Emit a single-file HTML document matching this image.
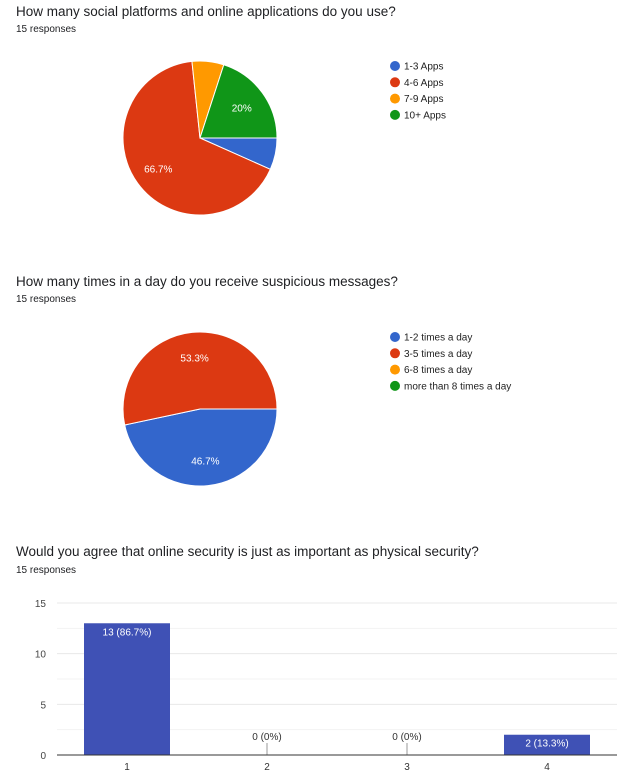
<!DOCTYPE html>
<html><head><meta charset="utf-8"><style>
body{margin:0;background:#fff;width:631px;height:773px;overflow:hidden;font-family:"Liberation Sans",Arial,sans-serif;}
svg text{font-family:"Liberation Sans",Arial,sans-serif;}
</style></head><body>
<svg id="s" width="631" height="773">
<text x="16" y="16" font-size="13.5" fill="#202124">How many social platforms and online applications do you use?</text>
<text x="16" y="32" font-size="10" fill="#202124">15 responses</text>
<text x="16" y="286" font-size="13.5" fill="#202124">How many times in a day do you receive suspicious messages?</text>
<text x="16" y="302" font-size="10" fill="#202124">15 responses</text>
<text x="16" y="556" font-size="13.5" fill="#202124">Would you agree that online security is just as important as physical security?</text>
<text x="16" y="573" font-size="10" fill="#202124">15 responses</text>
<g id="g1"></g>
<g id="g2"></g>
<g id="g3"></g>
</svg>
<script>
const pie1Labels=["1-3 Apps","4-6 Apps","7-9 Apps","10+ Apps"];
const pie1Values=[1,10,1,3];
const pie2Labels=["1-2 times a day","3-5 times a day","6-8 times a day","more than 8 times a day"];
const pie2Values=[7,8,0,0];
const barCategories=["1","2","3","4"];
const barValues=[13,0,0,2];
const barTicks=[0,5,10,15];
const colors=["#3366cc","#dc3912","#ff9900","#109618"];
const NS="http://www.w3.org/2000/svg";
function mk(t,a,p){const e=document.createElementNS(NS,t);for(const k in a)e.setAttribute(k,a[k]);p.appendChild(e);return e;}
function pie(g,labels,values,cx,cy,r,ly){
  const tot=values.reduce((a,b)=>a+b,0);let a=90;
  values.forEach((v,i)=>{
    if(v<=0)return;
    const sw=v/tot*360,a0=a*Math.PI/180,a1=(a+sw)*Math.PI/180;
    const x0=cx+r*Math.sin(a0),y0=cy-r*Math.cos(a0),x1=cx+r*Math.sin(a1),y1=cy-r*Math.cos(a1);
    const p=mk("path",{d:`M${cx},${cy}L${x0},${y0}A${r},${r} 0 ${sw>180?1:0} 1 ${x1},${y1}Z`,fill:colors[i],stroke:"#fff","stroke-width":1},g);
    
    
    const pct=v/tot*100;
    if(pct>=10){const m=(a+sw/2)*Math.PI/180;
      const t=mk("text",{x:cx+r*0.67*Math.sin(m),y:cy-r*0.67*Math.cos(m)+4,"font-size":10,fill:"#fff","text-anchor":"middle"},g);
      t.textContent=(Math.round(pct*10)/10)+"%";
      
      }
    a+=sw;
  });
  labels.forEach((l,i)=>{
    const c=mk("circle",{cx:395,cy:ly+i*16.3,r:5,fill:colors[i]},g);
    
    
    const t=mk("text",{x:404,y:ly+i*16.3+3.5,"font-size":10,fill:"#222"},g);
    t.textContent=l;
    
    
  });
}
pie(document.getElementById("g1"),pie1Labels,pie1Values,200,138,77,66);
pie(document.getElementById("g2"),pie2Labels,pie2Values,200,409,77,337);
(function(){
  const g=document.getElementById("g3");
  const L=57,R=617,T=603,B=755,max=15;
  const y=v=>B-(v/max)*(B-T);const step=(R-L)/barCategories.length;
  for(let v=2.5;v<=max;v+=2.5){const ln=mk("line",{x1:L,x2:R,y1:y(v),y2:y(v),stroke:v%5?"#f3f3f3":"#e8e8e8"},g);
    
    }
  barTicks.forEach(v=>{const t=mk("text",{x:46,y:y(v)+4,"font-size":10,fill:"#444","text-anchor":"end"},g);t.textContent=v;
    
    });
  const tot=barValues.reduce((a,b)=>a+b,0);
  barCategories.forEach((c,i)=>{
    const cx=L+step*(i+0.5),v=barValues[i];
    const lbl=v+" ("+(Math.round(v/tot*1000)/10)+"%)";
    if(v>0){const r=mk("rect",{x:cx-43,y:y(v),width:86,height:B-y(v),fill:"#3f51b5"},g);
      
      
      const t=mk("text",{x:cx,y:y(v)+12,"font-size":10,fill:"#fff","text-anchor":"middle"},g);t.textContent=lbl;
      
      }
    else{const ln=mk("line",{x1:cx,x2:cx,y1:B-12,y2:B,stroke:"#999"},g);
      
      
      const t=mk("text",{x:cx,y:B-15,"font-size":10,fill:"#333","text-anchor":"middle"},g);t.textContent=lbl;
      
      }
    const xt=mk("text",{x:cx,y:B+15,"font-size":10,fill:"#333","text-anchor":"middle"},g);xt.textContent=c;
    
    
  });
  const ax=mk("line",{x1:L,x2:R,y1:B,y2:B,stroke:"#333"},g);
  
  
})();
</script>
</body></html>
